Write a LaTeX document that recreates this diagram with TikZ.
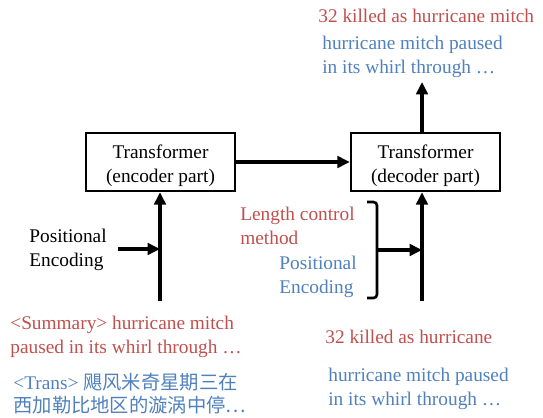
\documentclass[tikz,border=0pt]{standalone}
\usepackage{fontspec}
\setmainfont{Liberation Serif}
\newfontfamily\cjk{Noto Sans CJK SC}
\usepackage{tikz}
\usetikzlibrary{calc}
\usetikzlibrary{arrows.meta}
\definecolor{sumred}{RGB}{192,80,77}
\definecolor{transblue}{RGB}{79,129,189}
\newcommand{\boxtext}[2]{\raisebox{-2pt}[\height][\depth]{\begin{tabular}{@{}c@{}}#1\\#2\end{tabular}}}

\begin{document}
\begin{tikzpicture}[x=0.02cm, y=-0.02cm, font=\fontsize{11}{14}\selectfont,
  block/.style={draw, line width=1.4pt, minimum width=2.98cm, minimum height=1.16cm, align=center, inner sep=0pt},
  txt/.style={anchor=west, align=left, inner sep=0pt},
  flow/.style={line width=1.9pt, -{Triangle[length=7pt,width=6.5pt]}}]
  \useasboundingbox (0,0) rectangle (543,418);

  % the two halves of the model
  \node[block] (enc) at (160.5,162) {\boxtext{Transformer}{(encoder part)}};
  \node[block] (dec) at (425.5,162) {\boxtext{Transformer}{(decoder part)}};

  % texts
  \node[txt, text=sumred] (outsum) at (318,16) {32 killed as hurricane mitch};
  \node[txt, text=transblue] (outtrans) at (322,57) {hurricane mitch paused\\in its whirl through \dots};
  \node[txt] (encpos) at (29,250) {Positional\\Encoding};
  \node[txt, text=sumred] (lenctl) at (240,226) {Length control\\method};
  \node[txt, text=transblue] (decpos) at (279,277) {Positional\\Encoding};
  \node[txt, text=sumred] (insum) at (10,337) {<Summary> hurricane mitch\\paused in its whirl through \dots};
  \node[txt, text=transblue, font=\fontsize{11}{13}\selectfont] (intrans) at (13,394) {<Trans> {\cjk 飓风米奇星期三在}\\{\cjk 西加勒比地区的漩涡中停\dots}};
  \node[txt, text=sumred] (decsum) at (325,337) {32 killed as hurricane};
  \node[txt, text=transblue] (dectrans) at (328,389) {hurricane mitch paused\\in its whirl through \dots};

  % connectors
  \coordinate (encin) at (160,301);
  \coordinate (decin) at (422,301);
  \coordinate (out) at (422,82);
  \coordinate (encposend) at (118,249);
  \coordinate (brtop) at (367,202);
  \coordinate (brbot) at (367,298);
  \coordinate (brmid) at (377,250);

  \draw[flow] (enc.east) -- (dec.west);
  \draw[flow] (encin) -- (enc.south -| encin);
  \draw[flow] (encposend) -- (encin |- encposend);
  \draw[flow] (decin) -- (dec.south -| decin);
  \draw[flow] (dec.north -| out) -- (out);
  \draw[line width=1.5pt, rounded corners=2pt] (brtop) -- (brtop -| brmid) -- (brbot -| brmid) -- (brbot);
  \draw[flow] (brmid) -- (decin |- brmid);
\end{tikzpicture}
\end{document}
